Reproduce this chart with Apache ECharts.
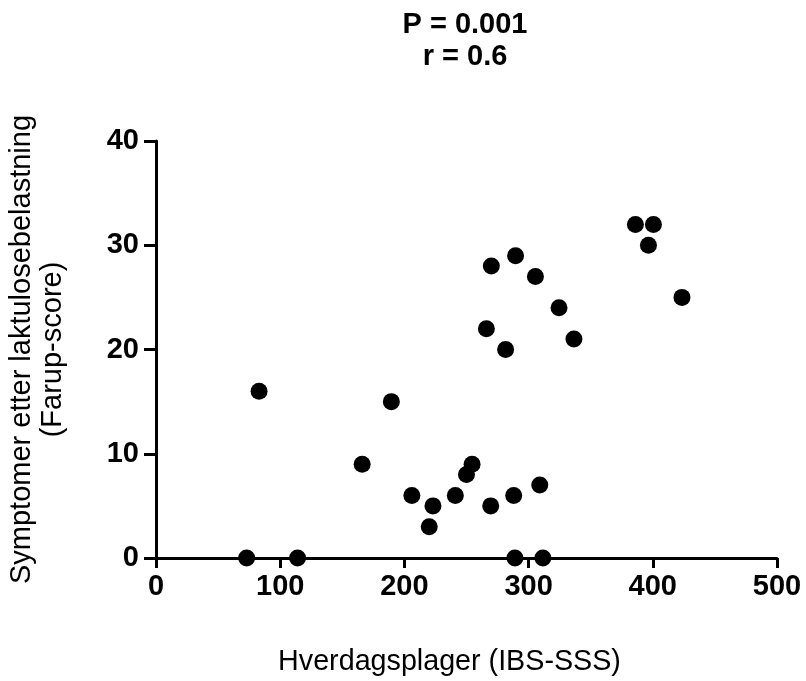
<!DOCTYPE html>
<html>
<head>
<meta charset="utf-8">
<script src="https://cdn.jsdelivr.net/npm/echarts@6/dist/echarts.min.js"></script>
<style>
  html, body { margin: 0; padding: 0; background: #fff; }
  #chart { width: 806px; height: 681px; }
</style>
</head>
<body>
<div id="chart"></div>
<script>
// IBS-SSS (x) vs Farup-score (y)
const ibsSss = [73, 114, 83, 166, 189.5, 206, 220, 223, 241, 250, 254.5, 269.5, 288, 309, 289, 311.5,
  266, 270, 281.5, 289.5, 305.5, 324.5, 336.5, 386, 396.5, 400.5, 423.5];
const farup = [0, 0, 16, 9, 15, 6, 3, 5, 6, 8, 9, 5, 6, 7, 0, 0,
  22, 28, 20, 29, 27, 24, 21, 32, 30, 32, 25];
const xTicks = [0, 100, 200, 300, 400, 500];
const yTicks = [0, 10, 20, 30, 40];

const points = ibsSss.map((x, i) => [x, farup[i]]);

const chart = echarts.init(document.getElementById('chart'), null, { renderer: 'canvas' });

const axisLine = { lineStyle: { color: '#000', width: 3 } };
const tickStyle = { lineStyle: { color: '#000', width: 3 } };
const tickFont = {
  color: '#000',
  fontFamily: 'Liberation Sans, Arial, sans-serif',
  fontWeight: 'bold',
  fontSize: 29
};
const nameFont = {
  color: '#000',
  fontFamily: 'Liberation Sans, Arial, sans-serif',
  fontSize: 28.7
};

chart.setOption({
  animation: false,
  backgroundColor: '#fff',
  title: {
    text: 'P = 0.001\nr = 0.6',
    left: 465,
    textAlign: 'center',
    top: 9,
    padding: 0,
    textStyle: {
      color: '#000',
      fontFamily: 'Liberation Sans, Arial, sans-serif',
      fontWeight: 'bold',
      fontSize: 29,
      lineHeight: 32
    }
  },
  grid: { left: 156, right: 29, top: 141, bottom: 123, containLabel: false, outerBoundsMode: 'none' },
  xAxis: {
    type: 'value',
    min: xTicks[0],
    max: xTicks[xTicks.length - 1],
    interval: 100,
    name: 'Hverdagsplager (IBS-SSS)',
    nameLocation: 'middle',
    nameGap: 90,
    nameTextStyle: { ...nameFont, padding: [0, 34, 0, 0] },
    axisLine,
    axisTick: { show: true, length: 10, ...tickStyle },
    axisLabel: { margin: 14, ...tickFont },
    splitLine: { show: false }
  },
  yAxis: {
    type: 'value',
    min: yTicks[0],
    max: yTicks[yTicks.length - 1],
    interval: 10,
    name: 'Symptomer etter laktulosebelastning\n(Farup-score)',
    nameLocation: 'middle',
    nameGap: 88,
    nameTextStyle: { ...nameFont, fontSize: 29, lineHeight: 31 },
    axisLine,
    axisTick: { show: true, length: 12, ...tickStyle },
    axisLabel: { margin: 17, ...tickFont },
    splitLine: { show: false }
  },
  series: [
    {
      type: 'scatter',
      data: points,
      symbol: 'circle',
      symbolSize: 17,
      itemStyle: { color: '#000', opacity: 1 },
      clip: false
    }
  ]
});
</script>
</body>
</html>
